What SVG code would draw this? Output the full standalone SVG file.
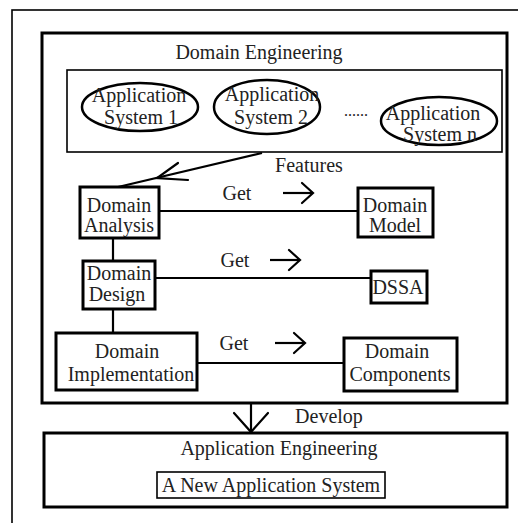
<svg xmlns="http://www.w3.org/2000/svg" width="518" height="523" viewBox="0 0 518 523">
<style>
text{font-family:"Liberation Serif","Times New Roman",serif;font-size:20px;fill:#222;text-anchor:middle}
.box{fill:none;stroke:#000;stroke-width:3}
.thin{fill:none;stroke:#000;stroke-width:1.6}
.ell{fill:#fff;stroke:#000;stroke-width:2.5}
.ln{fill:none;stroke:#000;stroke-width:2.2}
.ah{fill:none;stroke:#000;stroke-width:2.2;stroke-linecap:round;stroke-linejoin:miter}
</style>
<rect x="0" y="0" width="518" height="523" fill="#fff"/>
<g id="frame"><rect x="12" y="10" width="520" height="520" class="thin"/></g>
<g id="domain-engineering">
<rect x="42" y="33" width="465" height="370" class="box"/>
<text x="259" y="59">Domain Engineering</text>
</g>
<g id="application-systems">
<rect x="67" y="70" width="435" height="82" class="thin"/>
<text x="356" y="116" style="font-size:16px">......</text>
</g>
<g id="app-system-1">
<ellipse cx="140" cy="107" rx="58" ry="24" class="ell"/>
<text x="139" y="102">Application</text>
<text x="141" y="124">System 1</text>
</g>
<g id="app-system-2">
<ellipse cx="267" cy="107" rx="53" ry="27" class="ell"/>
<text x="272" y="101">Application</text>
<text x="271" y="124">System 2</text>
</g>
<g id="app-system-n">
<ellipse cx="439" cy="121" rx="58" ry="24" class="ell"/>
<text x="433" y="120">Application</text>
<text x="440" y="141">System n</text>
</g>
<g id="domain-analysis">
<rect x="80" y="187" width="79" height="51" class="box"/>
<text x="119" y="212">Domain</text>
<text x="119" y="232">Analysis</text>
</g>
<g id="domain-model">
<rect x="358" y="188" width="75" height="49" class="box"/>
<text x="395" y="212">Domain</text>
<text x="395" y="232">Model</text>
</g>
<g id="domain-design">
<rect x="83" y="261" width="72" height="48" class="box"/>
<text x="119" y="280">Domain</text>
<text x="117" y="301">Design</text>
</g>
<g id="dssa">
<rect x="371" y="271" width="56" height="32" class="box"/>
<text x="398" y="294">DSSA</text>
</g>
<g id="domain-implementation">
<rect x="56" y="333" width="141" height="57" class="box"/>
<text x="127" y="358">Domain</text>
<text x="131" y="381">Implementation</text>
</g>
<g id="domain-components">
<rect x="344" y="338" width="113" height="53" class="box"/>
<text x="397" y="358">Domain</text>
<text x="400" y="381">Components</text>
</g>
<g id="application-engineering">
<rect x="44" y="433" width="463" height="74" class="box"/>
<text x="279" y="455">Application Engineering</text>
</g>
<g id="new-application-system">
<rect x="157" y="472" width="228" height="26" class="thin"/>
<text x="271" y="492">A New Application System</text>
</g>
<g id="connectors">
<line x1="262" y1="153" x2="118" y2="187" class="ln"/>
<polyline points="178,163 157,178 188,180" class="ah"/>
<text x="309" y="172">Features</text>
<line x1="159" y1="211" x2="358" y2="211" class="ln"/>
<text x="237" y="200">Get</text>
<line x1="283" y1="193" x2="312" y2="193" class="ln"/>
<polyline points="302,183 313,193 302,203" class="ah"/>
<line x1="113" y1="238" x2="113" y2="261" class="ln"/>
<line x1="155" y1="278" x2="371" y2="278" class="ln"/>
<text x="235" y="267">Get</text>
<line x1="270" y1="260" x2="299" y2="260" class="ln"/>
<polyline points="289,250 300,260 289,270" class="ah"/>
<line x1="113" y1="309" x2="113" y2="333" class="ln"/>
<line x1="197" y1="363" x2="344" y2="363" class="ln"/>
<text x="234" y="350">Get</text>
<line x1="275" y1="343" x2="304" y2="343" class="ln"/>
<polyline points="294,333 305,343 294,353" class="ah"/>
<line x1="251" y1="403" x2="251" y2="432" class="ln"/>
<polyline points="234,413 251,432 268,413" class="ah"/>
<text x="329" y="423">Develop</text>
</g>
</svg>
